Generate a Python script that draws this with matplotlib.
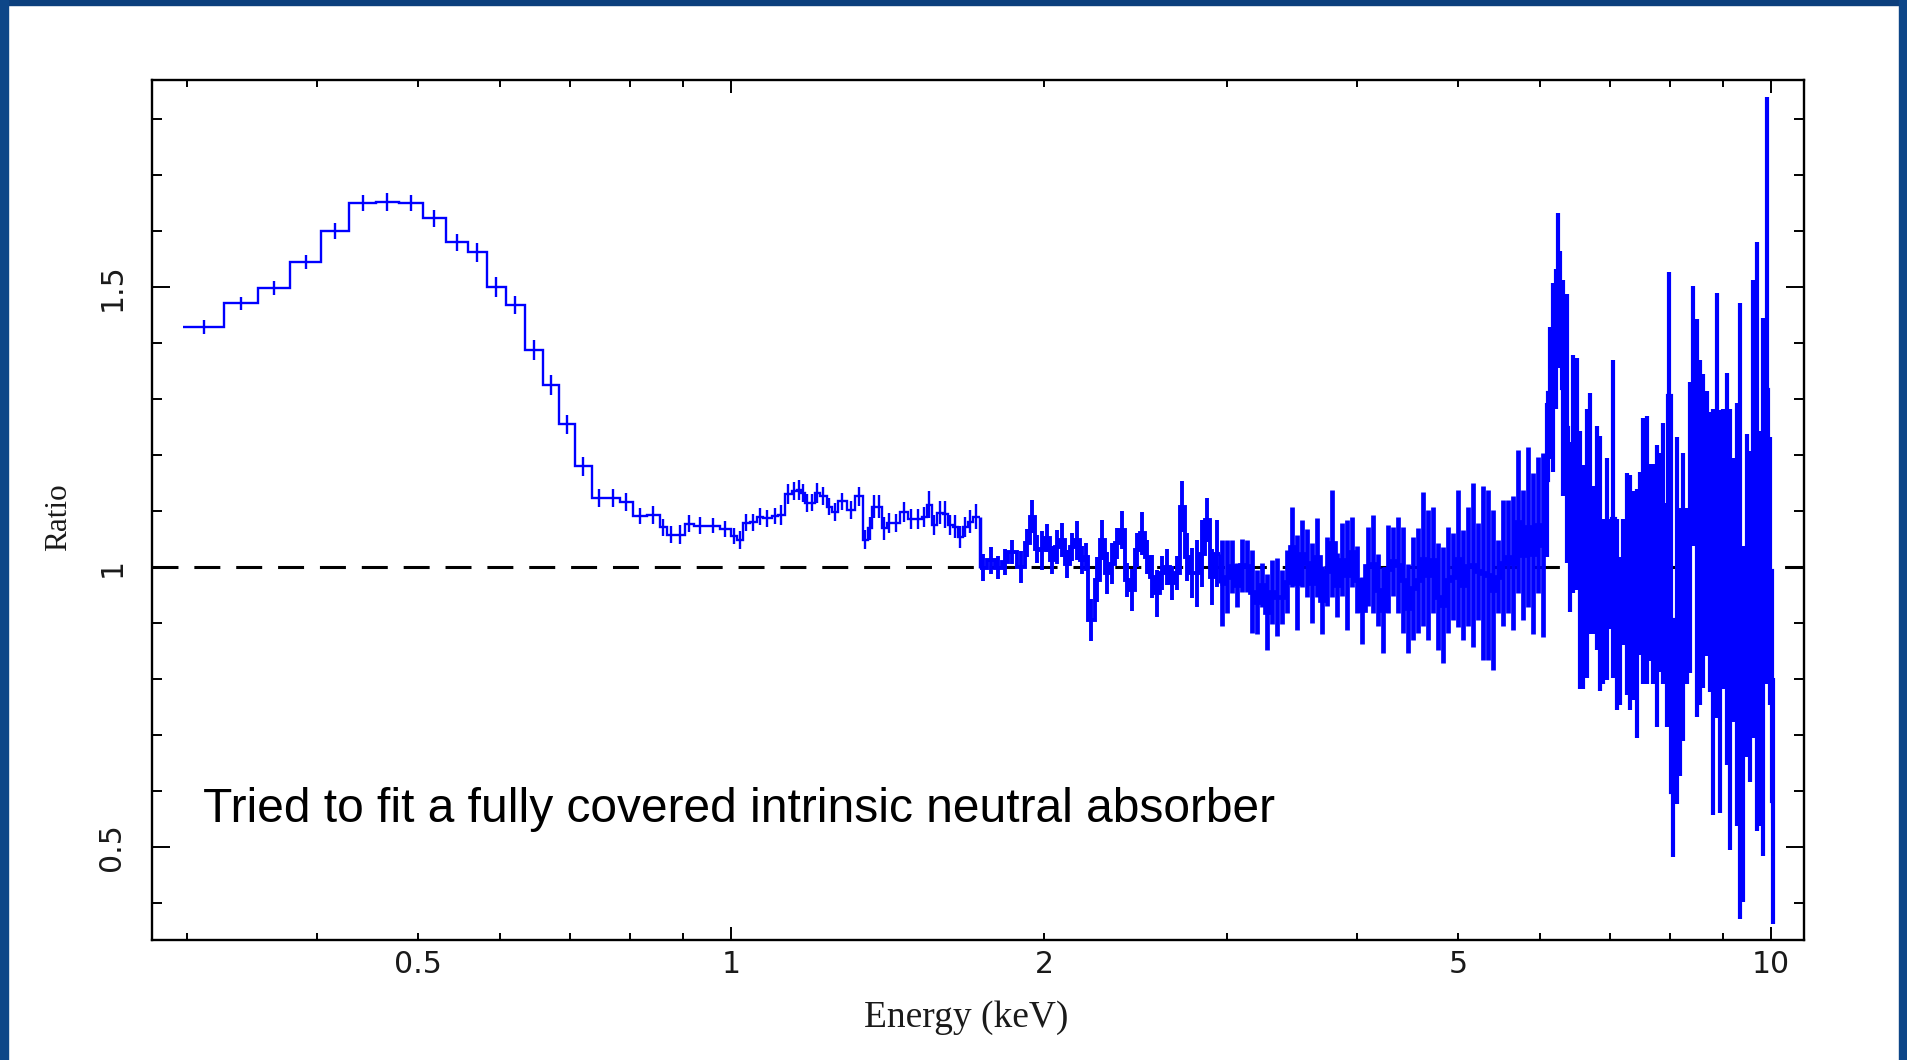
import numpy as np
import matplotlib
matplotlib.use('Agg')
import matplotlib.pyplot as plt
from matplotlib.ticker import FixedLocator, FuncFormatter
from matplotlib.patches import Rectangle

# ---------------- data (energy bin edges in keV, data/model ratio, 1-sigma error) -------------
soft_edges_keV = [0.2972, 0.3255, 0.3509, 0.3767, 0.4034, 0.4293, 0.4556, 0.4795, 0.5056, 0.5321,
                  0.5586, 0.5825, 0.6074, 0.6337, 0.6596, 0.6833, 0.7079, 0.7353, 0.7581, 0.7820,
                  0.8051, 0.8303, 0.8545, 0.8678, 0.8834, 0.9032, 0.9213, 0.9483, 0.9759, 1.0000,
                  1.0134, 1.0269, 1.0430, 1.0593, 1.0734, 1.0950, 1.1097, 1.1270, 1.1446, 1.1574,
                  1.1676, 1.1780, 1.1911, 1.2044, 1.2178, 1.2368, 1.2506, 1.2673, 1.2929, 1.3160,
                  1.3395, 1.3545, 1.3665, 1.3817, 1.3971, 1.4125, 1.4283, 1.4538, 1.4798, 1.5029,
                  1.5264, 1.5434, 1.5606, 1.5780, 1.5991, 1.6169, 1.6349, 1.6531, 1.6715, 1.6901,
                  1.7090, 1.7357]
soft_ratio = [1.429, 1.471, 1.498, 1.545, 1.600, 1.650, 1.652, 1.650, 1.623, 1.580,
              1.562, 1.500, 1.468, 1.388, 1.325, 1.255, 1.180, 1.123, 1.123, 1.116,
              1.091, 1.093, 1.071, 1.058, 1.058, 1.077, 1.074, 1.074, 1.068, 1.055,
              1.048, 1.079, 1.080, 1.090, 1.087, 1.091, 1.093, 1.130, 1.136, 1.137,
              1.132, 1.114, 1.115, 1.132, 1.126, 1.108, 1.099, 1.117, 1.102, 1.126,
              1.049, 1.069, 1.108, 1.108, 1.069, 1.078, 1.078, 1.098, 1.085, 1.085,
              1.090, 1.111, 1.075, 1.097, 1.094, 1.075, 1.072, 1.054, 1.072, 1.081,
              1.090]
soft_err = [0.0125, 0.012, 0.013, 0.013, 0.014, 0.014, 0.016, 0.015, 0.015, 0.015,
            0.017, 0.017, 0.016, 0.018, 0.018, 0.017, 0.017, 0.016, 0.016, 0.016,
            0.015, 0.016, 0.015, 0.015, 0.017, 0.015, 0.015, 0.014, 0.014, 0.014,
            0.016, 0.015, 0.015, 0.015, 0.015, 0.015, 0.018, 0.018, 0.016, 0.018,
            0.016, 0.016, 0.015, 0.018, 0.016, 0.016, 0.016, 0.016, 0.016, 0.017,
            0.017, 0.020, 0.020, 0.020, 0.020, 0.018, 0.016, 0.018, 0.018, 0.018,
            0.018, 0.024, 0.018, 0.020, 0.024, 0.018, 0.020, 0.020, 0.018, 0.020,
            0.022]

mid_edges_keV = [1.7628, 1.7944, 1.8225, 1.8469, 1.8836, 1.9172, 1.9386, 1.9602, 1.9820, 2.0040,
                 2.0264, 2.0489, 2.0718, 2.0948, 2.1182, 2.1417, 2.1656, 2.1897, 2.2043, 2.2387,
                 2.2637, 2.2889, 2.3144, 2.3402, 2.3662, 2.3926, 2.4192, 2.4461, 2.4734, 2.5009,
                 2.5288, 2.5569, 2.5854, 2.6142, 2.6433, 2.6728, 2.7025, 2.7326, 2.7630, 2.7938,
                 2.8249, 2.8564, 2.8882, 2.9203, 2.9529]
mid_ratio = [0.999, 1.012, 0.999, 1.009, 1.027, 1.000, 1.042, 1.090, 1.033, 1.030,
             1.051, 1.012, 1.036, 1.048, 1.006, 1.036, 1.048, 1.012, 1.018, 0.905,
             0.977, 1.048, 0.989, 1.006, 1.042, 1.066, 0.977, 0.959, 1.030, 1.060,
             1.018, 0.983, 0.953, 0.989, 1.000, 0.971, 0.989, 1.108, 1.018, 0.989,
             0.989, 1.024, 1.084, 0.983, 1.024]
mid_err = [0.024, 0.024, 0.020, 0.024, 0.022, 0.028, 0.025, 0.030, 0.025, 0.035,
           0.025, 0.025, 0.030, 0.030, 0.025, 0.025, 0.035, 0.025, 0.025, 0.038,
           0.040, 0.036, 0.037, 0.037, 0.028, 0.034, 0.030, 0.038, 0.030, 0.038,
           0.030, 0.038, 0.042, 0.030, 0.033, 0.030, 0.030, 0.045, 0.043, 0.045,
           0.060, 0.060, 0.040, 0.050, 0.060]

hard_edges_keV = [2.9857, 3.0190, 3.0526, 3.0866, 3.1210, 3.1557, 3.1909, 3.2264, 3.2623, 3.2986,
                  3.3354, 3.3725, 3.4101, 3.4480, 3.4864, 3.5253, 3.5645, 3.6042, 3.6443, 3.6849,
                  3.7259, 3.7674, 3.8094, 3.8518, 3.8947, 3.9380, 3.9819, 4.0262, 4.0711, 4.1164,
                  4.1622, 4.2086, 4.2555, 4.3028, 4.3508, 4.3992, 4.4482, 4.4977, 4.5478, 4.5984,
                  4.6496, 4.7014, 4.7537, 4.8067, 4.8602, 4.9143, 4.9690, 5.0244, 5.0803, 5.1369,
                  5.1941, 5.2519, 5.3104, 5.3695, 5.4293, 5.4898, 5.5509, 5.6127, 5.6752, 5.7384,
                  5.8023, 5.8669, 5.9322, 5.9983, 6.0651]
hard_ratio = [0.971, 0.983, 1.001, 0.968, 1.003, 1.002, 0.956, 0.938, 0.968, 0.920,
              0.956, 0.946, 0.947, 0.974, 1.036, 0.972, 1.024, 1.007, 0.971, 1.017,
              0.941, 0.992, 1.042, 0.968, 1.013, 0.986, 1.027, 0.977, 0.923, 1.001,
              1.005, 0.959, 0.923, 0.996, 1.010, 1.004, 0.977, 0.926, 0.962, 0.976,
              1.014, 0.986, 1.013, 0.947, 0.932, 0.977, 0.983, 1.015, 0.968, 1.001,
              1.004, 0.992, 0.989, 0.986, 0.959, 0.983, 1.007, 1.018, 1.007, 1.081,
              1.021, 1.072, 1.024, 1.075, 1.039]
hard_err = [0.077, 0.065, 0.048, 0.039, 0.047, 0.046, 0.074, 0.057, 0.039, 0.068,
            0.057, 0.070, 0.048, 0.057, 0.071, 0.085, 0.060, 0.060, 0.071, 0.070,
            0.060, 0.062, 0.095, 0.057, 0.065, 0.098, 0.062, 0.060, 0.060, 0.071,
            0.088, 0.065, 0.077, 0.079, 0.062, 0.086, 0.095, 0.080, 0.092, 0.094,
            0.120, 0.116, 0.095, 0.095, 0.104, 0.095, 0.077, 0.122, 0.098, 0.107,
            0.146, 0.086, 0.155, 0.152, 0.143, 0.065, 0.113, 0.101, 0.119, 0.128,
            0.116, 0.143, 0.143, 0.122, 0.164]

fe_edges_keV = [6.110, 6.155, 6.199, 6.231, 6.259, 6.291, 6.338, 6.385, 6.432, 6.480,
                6.528, 6.576, 6.625, 6.674, 6.724, 6.773, 6.824, 6.874, 6.925, 6.977,
                7.028, 7.079, 7.132, 7.185, 7.238, 7.292, 7.346, 7.400, 7.455, 7.510,
                7.566, 7.622, 7.678, 7.735, 7.792, 7.850, 7.908, 7.967, 8.008, 8.085,
                8.145, 8.205, 8.266, 8.327, 8.389, 8.451, 8.513, 8.576, 8.640, 8.704,
                8.768, 8.834, 8.899, 8.965, 9.032, 9.098, 9.166, 9.234, 9.302, 9.371,
                9.441, 9.511, 9.581, 9.652, 9.724, 9.796, 9.868, 9.941, 10.015, 10.089]
fe_ratio = [1.155, 1.311, 1.339, 1.407, 1.497, 1.460, 1.319, 1.248, 1.071, 1.166,
            1.166, 1.012, 0.983, 1.042, 1.096, 1.012, 1.052, 1.006, 0.939, 0.996,
            0.988, 1.086, 0.915, 0.885, 0.973, 0.970, 0.954, 0.949, 0.917, 1.006,
            1.029, 1.031, 1.008, 0.988, 0.966, 1.008, 1.025, 0.915, 1.306, 0.598,
            0.905, 0.866, 0.947, 0.949, 1.071, 1.270, 1.088, 1.062, 1.064, 1.078,
            1.027, 0.920, 1.110, 0.921, 1.032, 0.996, 0.888, 0.959, 0.915, 0.921,
            0.719, 0.949, 0.912, 1.104, 1.055, 0.890, 0.964, 1.316, 0.993, 0.582]
fe_err = [0.137, 0.118, 0.169, 0.125, 0.136, 0.105, 0.193, 0.240, 0.152, 0.213,
          0.207, 0.230, 0.200, 0.240, 0.215, 0.132, 0.200, 0.228, 0.147, 0.198,
          0.098, 0.284, 0.171, 0.132, 0.113, 0.198, 0.210, 0.186, 0.223, 0.164,
          0.237, 0.239, 0.176, 0.196, 0.252, 0.196, 0.233, 0.200, 0.220, 0.115,
          0.328, 0.240, 0.257, 0.157, 0.260, 0.232, 0.355, 0.308, 0.280, 0.237,
          0.250, 0.362, 0.380, 0.360, 0.250, 0.350, 0.394, 0.235, 0.377, 0.550,
          0.318, 0.289, 0.296, 0.409, 0.526, 0.353, 0.480, 0.524, 0.240, 0.220]

x_label_vals = [0.5, 2, 5]
y_major = [0.5, 1.0, 1.5]
y_minor = [0.4, 0.6, 0.7, 0.8, 0.9, 1.1, 1.2, 1.3, 1.4, 1.6, 1.7, 1.8]
x_major = [1, 10]
x_minor = [0.3, 0.4, 0.5, 0.6, 0.7, 0.8, 0.9, 2, 3, 4, 5, 6, 7, 8, 9]

annotation = "Tried to fit a fully covered intrinsic neutral absorber"

# ---------------- figure ----------------
W, H = 1907, 1060
fig = plt.figure(figsize=(W / 100, H / 100), dpi=100)
fig.patch.set_facecolor('white')

# slide frame (blue border on top, left, right)
fig.patches.append(Rectangle((0, 1 - 5 / H), 1, 5 / H, transform=fig.transFigure,
                             color='#0c3f7d', zorder=0))
fig.patches.append(Rectangle((0, 0), 8 / W, 1, transform=fig.transFigure,
                             color='#0d4688', zorder=0))
fig.patches.append(Rectangle((1 - 8 / W, 0), 8 / W, 1, transform=fig.transFigure,
                             color='#0d4688', zorder=0))

ax = fig.add_axes([152 / W, (H - 940) / H, (1804 - 152) / W, (940 - 80) / H])
ax.set_xscale('log')
ax.set_xlim(0.2776, 10.76)
ax.set_ylim(0.334, 1.8696)

blue = '#0000ff'
ax.axhline(1.0, color='black', lw=2.2, dashes=(8.5, 5.2), zorder=1)

segments = [
    (soft_edges_keV, soft_ratio, soft_err, 1.7),
    ([soft_edges_keV[-1]] + mid_edges_keV, mid_ratio, mid_err, 2.8),
    ([mid_edges_keV[-1]] + hard_edges_keV, hard_ratio, hard_err, 3.4),
    ([hard_edges_keV[-1]] + fe_edges_keV, fe_ratio, fe_err, 3.0),
]
for seg_edges, seg_ratio, seg_err, lw in segments:
    e = np.array(seg_edges)
    r = np.array(seg_ratio)
    s = np.array(seg_err)
    c = 0.5 * (e[:-1] + e[1:])
    ax.stairs(r, e, baseline=None, color=blue, lw=lw, zorder=3)
    ax.vlines(c, r - s, r + s, color=blue, lw=lw, zorder=3)

# connectors between segments (vertical step at shared edges)
all_ratio = [soft_ratio, mid_ratio, hard_ratio, fe_ratio]
shared = [soft_edges_keV[-1], mid_edges_keV[-1], hard_edges_keV[-1]]
for k, xe in enumerate(shared):
    a, b = all_ratio[k][-1], all_ratio[k + 1][0]
    ax.vlines([xe], min(a, b), max(a, b), color=blue, lw=2.5, zorder=3)

# ticks
ax.xaxis.set_major_locator(FixedLocator(x_major))
ax.xaxis.set_minor_locator(FixedLocator(x_minor))
ax.xaxis.set_major_formatter(FuncFormatter(lambda v, p: f'{v:g}'))
ax.xaxis.set_minor_formatter(FuncFormatter(
    lambda v, p: f'{v:g}' if any(abs(v - t) < 1e-6 for t in x_label_vals) else ''))
ax.yaxis.set_major_locator(FixedLocator(y_major))
ax.yaxis.set_minor_locator(FixedLocator(y_minor))
ax.yaxis.set_major_formatter(FuncFormatter(lambda v, p: f'{v:g}'))

tick_col = '#1a1a1a'
ax.tick_params(axis='both', which='both', direction='in', top=True, right=True,
               width=1.4, color='black', labelcolor=tick_col, labelsize=21.5)
ax.tick_params(axis='x', which='major', length=9.4, pad=7.5)
ax.tick_params(axis='x', which='minor', length=5.0, pad=7.5)
ax.tick_params(axis='y', which='major', length=13, pad=18.5, labelrotation=90)
ax.tick_params(axis='y', which='minor', length=7.2)
for lbl in ax.get_yticklabels():
    lbl.set_verticalalignment('center')

for sp in ax.spines.values():
    sp.set_linewidth(1.7)
    sp.set_color('black')

# labels
fig.text(966 / W, 33 / H, 'Energy (keV)', ha='center', va='baseline',
         family=['Liberation Serif', 'DejaVu Serif'], fontsize=27, color='#1a1a1a')
fig.text(59 / W, 1 - 517 / H, 'Ratio', ha='center', va='center', rotation=90,
         family=['Liberation Serif', 'DejaVu Serif'], fontsize=22.5, color='#1a1a1a')
fig.text(203 / W, (H - 822) / H, annotation, ha='left', va='baseline',
         family=['Liberation Sans', 'DejaVu Sans'], fontsize=34.5, color='black')

fig.savefig('out.png', dpi=100)
